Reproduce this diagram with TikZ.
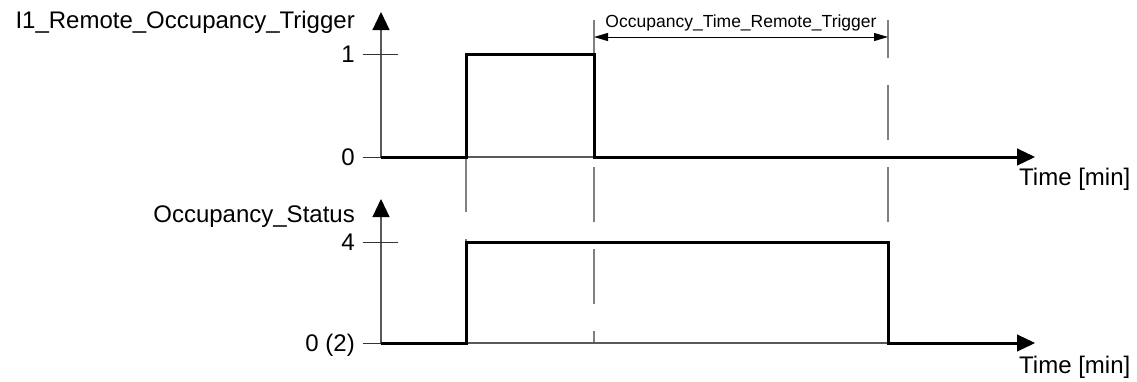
\documentclass[tikz,border=0pt]{standalone}
\usepackage{fontspec}
\setmainfont{Liberation Sans}
\usetikzlibrary{arrows.meta}
\begin{document}
\begin{tikzpicture}[x=1pt,y=-1pt,
  axis/.style={draw=black!65, line width=1.1pt},
  tick/.style={draw=black!80, line width=1pt},
  signal/.style={draw=black, line width=3pt, line join=miter},
  guide/.style={draw=black!50, line width=1.1pt, dash pattern=on 55pt off 27pt},
  bigarrow/.style={-{Triangle[length=18pt,width=17pt,black]}},
  dimline/.style={draw=black, line width=1pt, {Triangle[length=14pt,width=8pt]}-{Triangle[length=14pt,width=8pt]}},
  lbl/.style={font=\fontsize{24}{24}\selectfont, inner sep=0pt},
  small/.style={font=\fontsize{17.5}{17.5}\selectfont, inner sep=0pt}]
\useasboundingbox (0,0) rectangle (1137,381);

% --- coordinates, top chart
\coordinate (tO) at (381,157);
\coordinate (tTop) at (381,12);
\coordinate (tEnd) at (1035,157);
\coordinate (tBase) at (1017,157);
\coordinate (t1L) at (363,54);
\coordinate (t1R) at (398,54);
\coordinate (t0L) at (363,157);
\coordinate (tA) at (466,157);
\coordinate (tB) at (466,54);
\coordinate (tC) at (594,54);
\coordinate (tD) at (594,157);
% --- coordinates, bottom chart
\coordinate (bO) at (381,343);
\coordinate (bTop) at (381,199);
\coordinate (bEnd) at (1035,343);
\coordinate (bBase) at (1017,343);
\coordinate (b4L) at (363,242);
\coordinate (b4R) at (398,242);
\coordinate (b0L) at (363,343);
\coordinate (bA) at (466,343);
\coordinate (bB) at (466,242);
\coordinate (bC) at (888,242);
\coordinate (bD) at (888,343);
% --- guide lines
\coordinate (g1s) at (466,157);
\coordinate (g1e) at (466,343);
\coordinate (g2s) at (594,20);
\coordinate (g2e) at (594,343);
\coordinate (g3s) at (888,20);
\coordinate (g3e) at (888,343);
\coordinate (dL) at (594,37);
\coordinate (dR) at (888,37);

% guides
\draw[guide] (g1s) -- (g1e);
\draw[guide, dash phase=17pt] (g2s) -- (g2e);
\draw[guide, dash phase=17pt] (g3s) -- (g3e);

% axes
\draw[axis, bigarrow] (tO) -- (tTop);
\draw[axis, bigarrow] (tO) -- (tEnd);
\draw[tick] (t1L) -- (t1R);
\draw[tick] (t0L) -- (tO);
\draw[axis, bigarrow] (bO) -- (bTop);
\draw[axis, bigarrow] (bO) -- (bEnd);
\draw[tick] (b4L) -- (b4R);
\draw[tick] (b0L) -- (bO);

% signals
\draw[signal] (tO) -- (tA) -- (tB) -- (tC) -- (tD) -- (tBase);
\draw[signal] (bO) -- (bA) -- (bB) -- (bC) -- (bD) -- (bBase);

% dimension
\draw[dimline] (dL) -- (dR);
\node[small, anchor=base] (dimlbl) at (741,27) {Occupancy\_Time\_Remote\_Trigger};

% labels
\node[lbl, anchor=base east] (ylab1) at (355,28) {I1\_Remote\_Occupancy\_Trigger};
\node[lbl, anchor=base east] (v1) at (355,62) {1};
\node[lbl, anchor=base east] (v0) at (355,165) {0};
\node[lbl, anchor=base west] (xlab1) at (1019,185) {Time [min]};
\node[lbl, anchor=base east] (ylab2) at (355,222) {Occupancy\_Status};
\node[lbl, anchor=base east] (v4) at (355,250) {4};
\node[lbl, anchor=base east] (v02) at (355,351) {0 (2)};
\node[lbl, anchor=base west] (xlab2) at (1019,373) {Time [min]};
\end{tikzpicture}
\end{document}
